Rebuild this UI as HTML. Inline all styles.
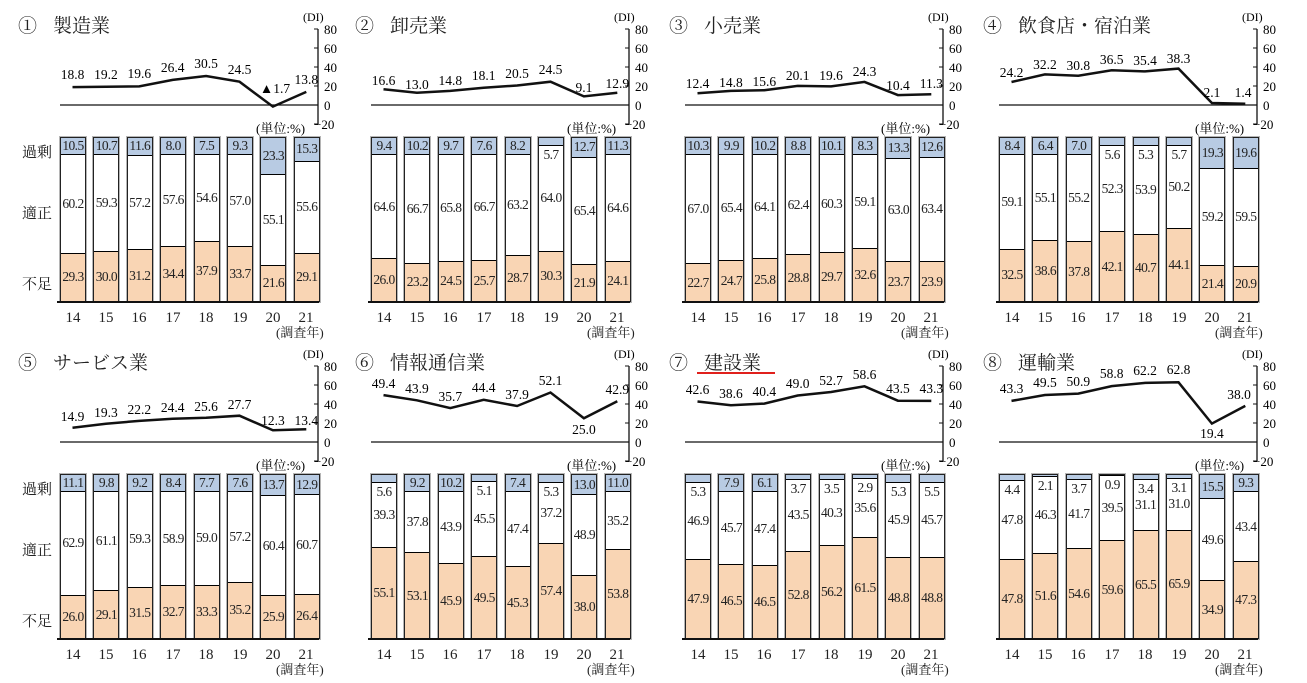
<!DOCTYPE html>
<html><head><meta charset="utf-8">
<style>
body{margin:0;background:#fff;width:1307px;height:683px;overflow:hidden;position:relative;font-family:"Liberation Serif","Noto Serif CJK SC",serif;color:#222}
.p{position:absolute;width:340px;height:337px}
.p svg{position:absolute;left:0;top:0;overflow:visible}
.ti{position:absolute;left:44px;top:11px;font-size:19px;white-space:nowrap}
.ti span{margin-left:16px}
.bar{position:absolute;top:137px;width:26px;height:165px;border:1px solid #222;box-sizing:border-box;display:flex;flex-direction:column;box-shadow:0 0 0 1px #b5b5b5;font-size:13.5px;letter-spacing:-0.6px;overflow:hidden}
.bar div{display:flex;align-items:center;justify-content:center;white-space:nowrap}
.e{flex:1 0 0;background:#b8cbe3}
.a{flex:0 1 auto;background:#fff;border-top:1px solid #000;position:relative;min-height:0}
.s{flex:0 1 auto;background:#f9d5b4;border-top:1px solid #000;min-height:0}
.a i{font-style:normal;position:absolute;top:1px;left:0;right:0;text-align:center}
.b0{left:60px}.b1{left:93.4px}.b2{left:126.8px}.b3{left:160.2px}.b4{left:193.6px}.b5{left:227px}.b6{left:260.4px}.b7{left:293.8px}
.xl{position:absolute;top:310px;width:30px;text-align:center;font-size:15px}
.yr{position:absolute;left:276px;top:322px;font-size:13px;white-space:nowrap}
.sl{position:absolute;left:22px;font-size:15px}
svg text{font-family:"Liberation Serif","Noto Serif CJK SC",serif}
.ax{font-size:13px}
.dl{font-size:13.5px}
</style></head><body>

<!-- Panel 1 -->
<div class="p" style="left:0;top:0">
<div class="ti" style="left:18px">①<span>製造業</span></div>
<svg width="340" height="140">
<line x1="60" y1="105" x2="318" y2="105" stroke="#111" stroke-width="1.3"/>
<line x1="318" y1="29" x2="318" y2="124" stroke="#111" stroke-width="1.3"/>
<path d="M314 29H318M314 48H318M314 67H318M314 86H318M314 105H318M314 124H318" stroke="#111"/>
<g class="ax"><text x="324" y="34">80</text><text x="324" y="53">60</text><text x="324" y="72">40</text><text x="324" y="91">20</text><text x="324" y="110">0</text><text x="314" y="129">−20</text></g>
<text x="303" y="21" font-size="12">(DI)</text>
<text x="256" y="133" font-size="13">(単位:%)</text>
<polyline fill="none" stroke="#111" stroke-width="2.5" points="72.5,87.1 105.9,86.8 139.3,86.4 172.7,79.9 206.1,76 239.5,81.7 272.9,106.6 306.3,91.9"/>
<g class="dl" text-anchor="middle"><text x="72.5" y="79">18.8</text><text x="105.9" y="79">19.2</text><text x="139.3" y="78">19.6</text><text x="172.7" y="72">26.4</text><text x="206.1" y="68">30.5</text><text x="239.5" y="74">24.5</text><text x="275" y="93">▲1.7</text><text x="306.3" y="84">13.8</text></g>
</svg>
<div class="sl" style="top:141px">過剰</div><div class="sl" style="top:202px">適正</div><div class="sl" style="top:273px">不足</div>
<div class="bar b0"><div class="e">10.5</div><div class="a" style="height:60.2%">60.2</div><div class="s" style="height:29.3%">29.3</div></div>
<div class="bar b1"><div class="e">10.7</div><div class="a" style="height:59.3%">59.3</div><div class="s" style="height:30%">30.0</div></div>
<div class="bar b2"><div class="e">11.6</div><div class="a" style="height:57.2%">57.2</div><div class="s" style="height:31.2%">31.2</div></div>
<div class="bar b3"><div class="e">8.0</div><div class="a" style="height:57.6%">57.6</div><div class="s" style="height:34.4%">34.4</div></div>
<div class="bar b4"><div class="e">7.5</div><div class="a" style="height:54.6%">54.6</div><div class="s" style="height:37.9%">37.9</div></div>
<div class="bar b5"><div class="e">9.3</div><div class="a" style="height:57%">57.0</div><div class="s" style="height:33.7%">33.7</div></div>
<div class="bar b6"><div class="e">23.3</div><div class="a" style="height:55.1%">55.1</div><div class="s" style="height:21.6%">21.6</div></div>
<div class="bar b7"><div class="e">15.3</div><div class="a" style="height:55.6%">55.6</div><div class="s" style="height:29.1%">29.1</div></div>
<div class="xl" style="left:58px">14</div><div class="xl" style="left:91px">15</div><div class="xl" style="left:124px">16</div><div class="xl" style="left:158px">17</div><div class="xl" style="left:191px">18</div><div class="xl" style="left:225px">19</div><div class="xl" style="left:258px">20</div><div class="xl" style="left:291px">21</div>
<div class="yr">(調査年)</div>
</div>

<!-- Panel 2 -->
<div class="p" style="left:311px;top:0">
<div class="ti">②<span>卸売業</span></div>
<svg width="340" height="140">
<line x1="60" y1="105" x2="318" y2="105" stroke="#111" stroke-width="1.3"/>
<line x1="318" y1="29" x2="318" y2="124" stroke="#111" stroke-width="1.3"/>
<path d="M314 29H318M314 48H318M314 67H318M314 86H318M314 105H318M314 124H318" stroke="#111"/>
<g class="ax"><text x="324" y="34">80</text><text x="324" y="53">60</text><text x="324" y="72">40</text><text x="324" y="91">20</text><text x="324" y="110">0</text><text x="314" y="129">−20</text></g>
<text x="303" y="21" font-size="12">(DI)</text>
<text x="256" y="133" font-size="13">(単位:%)</text>
<polyline fill="none" stroke="#111" stroke-width="2.5" points="72.5,89.2 105.9,92.7 139.3,90.9 172.7,87.8 206.1,85.5 239.5,81.7 272.9,96.4 306.3,92.7"/>
<g class="dl" text-anchor="middle"><text x="72.5" y="85">16.6</text><text x="105.9" y="89">13.0</text><text x="139.3" y="85">14.8</text><text x="172.7" y="80">18.1</text><text x="206.1" y="78">20.5</text><text x="239.5" y="74">24.5</text><text x="272.9" y="92">9.1</text><text x="306.3" y="88">12.9</text></g>
</svg>
<div class="bar b0"><div class="e">9.4</div><div class="a" style="height:64.6%">64.6</div><div class="s" style="height:26%">26.0</div></div>
<div class="bar b1"><div class="e">10.2</div><div class="a" style="height:66.7%">66.7</div><div class="s" style="height:23.2%">23.2</div></div>
<div class="bar b2"><div class="e">9.7</div><div class="a" style="height:65.8%">65.8</div><div class="s" style="height:24.5%">24.5</div></div>
<div class="bar b3"><div class="e">7.6</div><div class="a" style="height:66.7%">66.7</div><div class="s" style="height:25.7%">25.7</div></div>
<div class="bar b4"><div class="e">8.2</div><div class="a" style="height:63.2%">63.2</div><div class="s" style="height:28.7%">28.7</div></div>
<div class="bar b5"><div class="e"></div><div class="a" style="height:64%"><i>5.7</i>64.0</div><div class="s" style="height:30.3%">30.3</div></div>
<div class="bar b6"><div class="e">12.7</div><div class="a" style="height:65.4%">65.4</div><div class="s" style="height:21.9%">21.9</div></div>
<div class="bar b7"><div class="e">11.3</div><div class="a" style="height:64.6%">64.6</div><div class="s" style="height:24.1%">24.1</div></div>
<div class="xl" style="left:58px">14</div><div class="xl" style="left:91px">15</div><div class="xl" style="left:124px">16</div><div class="xl" style="left:158px">17</div><div class="xl" style="left:191px">18</div><div class="xl" style="left:225px">19</div><div class="xl" style="left:258px">20</div><div class="xl" style="left:291px">21</div>
<div class="yr">(調査年)</div>
</div>

<!-- Panel 3 -->
<div class="p" style="left:625px;top:0">
<div class="ti">③<span>小売業</span></div>
<svg width="340" height="140">
<line x1="60" y1="105" x2="318" y2="105" stroke="#111" stroke-width="1.3"/>
<line x1="318" y1="29" x2="318" y2="124" stroke="#111" stroke-width="1.3"/>
<path d="M314 29H318M314 48H318M314 67H318M314 86H318M314 105H318M314 124H318" stroke="#111"/>
<g class="ax"><text x="324" y="34">80</text><text x="324" y="53">60</text><text x="324" y="72">40</text><text x="324" y="91">20</text><text x="324" y="110">0</text><text x="314" y="129">−20</text></g>
<text x="303" y="21" font-size="12">(DI)</text>
<text x="256" y="133" font-size="13">(単位:%)</text>
<polyline fill="none" stroke="#111" stroke-width="2.5" points="72.5,93.2 105.9,90.9 139.3,90.2 172.7,85.9 206.1,86.4 239.5,81.9 272.9,95.1 306.3,94.3"/>
<g class="dl" text-anchor="middle"><text x="72.5" y="88">12.4</text><text x="105.9" y="87">14.8</text><text x="139.3" y="86">15.6</text><text x="172.7" y="80">20.1</text><text x="206.1" y="80">19.6</text><text x="239.5" y="76">24.3</text><text x="272.9" y="90">10.4</text><text x="306.3" y="88">11.3</text></g>
</svg>
<div class="bar b0"><div class="e">10.3</div><div class="a" style="height:67%">67.0</div><div class="s" style="height:22.7%">22.7</div></div>
<div class="bar b1"><div class="e">9.9</div><div class="a" style="height:65.4%">65.4</div><div class="s" style="height:24.7%">24.7</div></div>
<div class="bar b2"><div class="e">10.2</div><div class="a" style="height:64.1%">64.1</div><div class="s" style="height:25.8%">25.8</div></div>
<div class="bar b3"><div class="e">8.8</div><div class="a" style="height:62.4%">62.4</div><div class="s" style="height:28.8%">28.8</div></div>
<div class="bar b4"><div class="e">10.1</div><div class="a" style="height:60.3%">60.3</div><div class="s" style="height:29.7%">29.7</div></div>
<div class="bar b5"><div class="e">8.3</div><div class="a" style="height:59.1%">59.1</div><div class="s" style="height:32.6%">32.6</div></div>
<div class="bar b6"><div class="e">13.3</div><div class="a" style="height:63%">63.0</div><div class="s" style="height:23.7%">23.7</div></div>
<div class="bar b7"><div class="e">12.6</div><div class="a" style="height:63.4%">63.4</div><div class="s" style="height:23.9%">23.9</div></div>
<div class="xl" style="left:58px">14</div><div class="xl" style="left:91px">15</div><div class="xl" style="left:124px">16</div><div class="xl" style="left:158px">17</div><div class="xl" style="left:191px">18</div><div class="xl" style="left:225px">19</div><div class="xl" style="left:258px">20</div><div class="xl" style="left:291px">21</div>
<div class="yr">(調査年)</div>
</div>

<!-- Panel 4 -->
<div class="p" style="left:939px;top:0">
<div class="ti">④<span>飲食店・宿泊業</span></div>
<svg width="340" height="140">
<line x1="60" y1="105" x2="318" y2="105" stroke="#111" stroke-width="1.3"/>
<line x1="318" y1="29" x2="318" y2="124" stroke="#111" stroke-width="1.3"/>
<path d="M314 29H318M314 48H318M314 67H318M314 86H318M314 105H318M314 124H318" stroke="#111"/>
<g class="ax"><text x="324" y="34">80</text><text x="324" y="53">60</text><text x="324" y="72">40</text><text x="324" y="91">20</text><text x="324" y="110">0</text><text x="314" y="129">−20</text></g>
<text x="303" y="21" font-size="12">(DI)</text>
<text x="256" y="133" font-size="13">(単位:%)</text>
<polyline fill="none" stroke="#111" stroke-width="2.5" points="72.5,82 105.9,74.4 139.3,75.7 172.7,70.3 206.1,71.4 239.5,68.6 272.9,103 306.3,103.7"/>
<g class="dl" text-anchor="middle"><text x="72.5" y="77">24.2</text><text x="105.9" y="69">32.2</text><text x="139.3" y="70">30.8</text><text x="172.7" y="64">36.5</text><text x="206.1" y="65">35.4</text><text x="239.5" y="63">38.3</text><text x="272.9" y="97">2.1</text><text x="304" y="97">1.4</text></g>
</svg>
<div class="bar b0"><div class="e">8.4</div><div class="a" style="height:59.1%">59.1</div><div class="s" style="height:32.5%">32.5</div></div>
<div class="bar b1"><div class="e">6.4</div><div class="a" style="height:55.1%">55.1</div><div class="s" style="height:38.6%">38.6</div></div>
<div class="bar b2"><div class="e">7.0</div><div class="a" style="height:55.2%">55.2</div><div class="s" style="height:37.8%">37.8</div></div>
<div class="bar b3"><div class="e"></div><div class="a" style="height:52.3%"><i>5.6</i>52.3</div><div class="s" style="height:42.1%">42.1</div></div>
<div class="bar b4"><div class="e"></div><div class="a" style="height:53.9%"><i>5.3</i>53.9</div><div class="s" style="height:40.7%">40.7</div></div>
<div class="bar b5"><div class="e"></div><div class="a" style="height:50.2%"><i>5.7</i>50.2</div><div class="s" style="height:44.1%">44.1</div></div>
<div class="bar b6"><div class="e">19.3</div><div class="a" style="height:59.2%">59.2</div><div class="s" style="height:21.4%">21.4</div></div>
<div class="bar b7"><div class="e">19.6</div><div class="a" style="height:59.5%">59.5</div><div class="s" style="height:20.9%">20.9</div></div>
<div class="xl" style="left:58px">14</div><div class="xl" style="left:91px">15</div><div class="xl" style="left:124px">16</div><div class="xl" style="left:158px">17</div><div class="xl" style="left:191px">18</div><div class="xl" style="left:225px">19</div><div class="xl" style="left:258px">20</div><div class="xl" style="left:291px">21</div>
<div class="yr">(調査年)</div>
</div>

<!-- Panel 5 -->
<div class="p" style="left:0;top:337px">
<div class="ti" style="left:18px">⑤<span>サービス業</span></div>
<svg width="340" height="140">
<line x1="60" y1="105" x2="318" y2="105" stroke="#111" stroke-width="1.3"/>
<line x1="318" y1="29" x2="318" y2="124" stroke="#111" stroke-width="1.3"/>
<path d="M314 29H318M314 48H318M314 67H318M314 86H318M314 105H318M314 124H318" stroke="#111"/>
<g class="ax"><text x="324" y="34">80</text><text x="324" y="53">60</text><text x="324" y="72">40</text><text x="324" y="91">20</text><text x="324" y="110">0</text><text x="314" y="129">−20</text></g>
<text x="303" y="21" font-size="12">(DI)</text>
<text x="256" y="133" font-size="13">(単位:%)</text>
<polyline fill="none" stroke="#111" stroke-width="2.5" points="72.5,90.8 105.9,86.7 139.3,83.9 172.7,81.8 206.1,80.7 239.5,78.7 272.9,93.3 306.3,92.3"/>
<g class="dl" text-anchor="middle"><text x="72.5" y="84">14.9</text><text x="105.9" y="80">19.3</text><text x="139.3" y="77">22.2</text><text x="172.7" y="75">24.4</text><text x="206.1" y="74">25.6</text><text x="239.5" y="72">27.7</text><text x="272.9" y="88">12.3</text><text x="306.3" y="88">13.4</text></g>
</svg>
<div class="sl" style="top:141px">過剰</div><div class="sl" style="top:202px">適正</div><div class="sl" style="top:273px">不足</div>
<div class="bar b0"><div class="e">11.1</div><div class="a" style="height:62.9%">62.9</div><div class="s" style="height:26%">26.0</div></div>
<div class="bar b1"><div class="e">9.8</div><div class="a" style="height:61.1%">61.1</div><div class="s" style="height:29.1%">29.1</div></div>
<div class="bar b2"><div class="e">9.2</div><div class="a" style="height:59.3%">59.3</div><div class="s" style="height:31.5%">31.5</div></div>
<div class="bar b3"><div class="e">8.4</div><div class="a" style="height:58.9%">58.9</div><div class="s" style="height:32.7%">32.7</div></div>
<div class="bar b4"><div class="e">7.7</div><div class="a" style="height:59%">59.0</div><div class="s" style="height:33.3%">33.3</div></div>
<div class="bar b5"><div class="e">7.6</div><div class="a" style="height:57.2%">57.2</div><div class="s" style="height:35.2%">35.2</div></div>
<div class="bar b6"><div class="e">13.7</div><div class="a" style="height:60.4%">60.4</div><div class="s" style="height:25.9%">25.9</div></div>
<div class="bar b7"><div class="e">12.9</div><div class="a" style="height:60.7%">60.7</div><div class="s" style="height:26.4%">26.4</div></div>
<div class="xl" style="left:58px">14</div><div class="xl" style="left:91px">15</div><div class="xl" style="left:124px">16</div><div class="xl" style="left:158px">17</div><div class="xl" style="left:191px">18</div><div class="xl" style="left:225px">19</div><div class="xl" style="left:258px">20</div><div class="xl" style="left:291px">21</div>
<div class="yr">(調査年)</div>
</div>

<!-- Panel 6 -->
<div class="p" style="left:311px;top:337px">
<div class="ti">⑥<span>情報通信業</span></div>
<svg width="340" height="140">
<line x1="60" y1="105" x2="318" y2="105" stroke="#111" stroke-width="1.3"/>
<line x1="318" y1="29" x2="318" y2="124" stroke="#111" stroke-width="1.3"/>
<path d="M314 29H318M314 48H318M314 67H318M314 86H318M314 105H318M314 124H318" stroke="#111"/>
<g class="ax"><text x="324" y="34">80</text><text x="324" y="53">60</text><text x="324" y="72">40</text><text x="324" y="91">20</text><text x="324" y="110">0</text><text x="314" y="129">−20</text></g>
<text x="303" y="21" font-size="12">(DI)</text>
<text x="256" y="133" font-size="13">(単位:%)</text>
<polyline fill="none" stroke="#111" stroke-width="2.5" points="72.5,58.1 105.9,63.3 139.3,71.1 172.7,62.8 206.1,69 239.5,55.5 272.9,81.3 306.3,64.2"/>
<g class="dl" text-anchor="middle"><text x="72.5" y="51">49.4</text><text x="105.9" y="56">43.9</text><text x="139.3" y="64">35.7</text><text x="172.7" y="55">44.4</text><text x="206.1" y="62">37.9</text><text x="239.5" y="48">52.1</text><text x="272.9" y="97">25.0</text><text x="306.3" y="57">42.9</text></g>
</svg>
<div class="bar b0"><div class="e"></div><div class="a" style="height:39.3%"><i>5.6</i>39.3</div><div class="s" style="height:55.1%">55.1</div></div>
<div class="bar b1"><div class="e">9.2</div><div class="a" style="height:37.8%">37.8</div><div class="s" style="height:53.1%">53.1</div></div>
<div class="bar b2"><div class="e">10.2</div><div class="a" style="height:43.9%">43.9</div><div class="s" style="height:45.9%">45.9</div></div>
<div class="bar b3"><div class="e"></div><div class="a" style="height:45.5%"><i>5.1</i>45.5</div><div class="s" style="height:49.5%">49.5</div></div>
<div class="bar b4"><div class="e">7.4</div><div class="a" style="height:47.4%">47.4</div><div class="s" style="height:45.3%">45.3</div></div>
<div class="bar b5"><div class="e"></div><div class="a" style="height:37.2%"><i>5.3</i>37.2</div><div class="s" style="height:57.4%">57.4</div></div>
<div class="bar b6"><div class="e">13.0</div><div class="a" style="height:48.9%">48.9</div><div class="s" style="height:38%">38.0</div></div>
<div class="bar b7"><div class="e">11.0</div><div class="a" style="height:35.2%">35.2</div><div class="s" style="height:53.8%">53.8</div></div>
<div class="xl" style="left:58px">14</div><div class="xl" style="left:91px">15</div><div class="xl" style="left:124px">16</div><div class="xl" style="left:158px">17</div><div class="xl" style="left:191px">18</div><div class="xl" style="left:225px">19</div><div class="xl" style="left:258px">20</div><div class="xl" style="left:291px">21</div>
<div class="yr">(調査年)</div>
</div>

<!-- Panel 7 -->
<div class="p" style="left:625px;top:337px">
<div class="ti">⑦<span>建設業</span></div>
<div style="position:absolute;left:72px;top:35px;width:78px;height:2px;background:#e0201c"></div>
<svg width="340" height="140">
<line x1="60" y1="105" x2="318" y2="105" stroke="#111" stroke-width="1.3"/>
<line x1="318" y1="29" x2="318" y2="124" stroke="#111" stroke-width="1.3"/>
<path d="M314 29H318M314 48H318M314 67H318M314 86H318M314 105H318M314 124H318" stroke="#111"/>
<g class="ax"><text x="324" y="34">80</text><text x="324" y="53">60</text><text x="324" y="72">40</text><text x="324" y="91">20</text><text x="324" y="110">0</text><text x="314" y="129">−20</text></g>
<text x="303" y="21" font-size="12">(DI)</text>
<text x="256" y="133" font-size="13">(単位:%)</text>
<polyline fill="none" stroke="#111" stroke-width="2.5" points="72.5,64.5 105.9,68.3 139.3,66.6 172.7,58.5 206.1,55 239.5,49.3 272.9,63.7 306.3,63.9"/>
<g class="dl" text-anchor="middle"><text x="72.5" y="57">42.6</text><text x="105.9" y="61">38.6</text><text x="139.3" y="59">40.4</text><text x="172.7" y="51">49.0</text><text x="206.1" y="48">52.7</text><text x="239.5" y="42">58.6</text><text x="272.9" y="56">43.5</text><text x="306.3" y="56">43.3</text></g>
</svg>
<div class="bar b0"><div class="e"></div><div class="a" style="height:46.9%"><i>5.3</i>46.9</div><div class="s" style="height:47.9%">47.9</div></div>
<div class="bar b1"><div class="e">7.9</div><div class="a" style="height:45.7%">45.7</div><div class="s" style="height:46.5%">46.5</div></div>
<div class="bar b2"><div class="e">6.1</div><div class="a" style="height:47.4%">47.4</div><div class="s" style="height:46.5%">46.5</div></div>
<div class="bar b3"><div class="e"></div><div class="a" style="height:43.5%"><i>3.7</i>43.5</div><div class="s" style="height:52.8%">52.8</div></div>
<div class="bar b4"><div class="e"></div><div class="a" style="height:40.3%"><i>3.5</i>40.3</div><div class="s" style="height:56.2%">56.2</div></div>
<div class="bar b5"><div class="e"></div><div class="a" style="height:35.6%"><i>2.9</i>35.6</div><div class="s" style="height:61.5%">61.5</div></div>
<div class="bar b6"><div class="e"></div><div class="a" style="height:45.9%"><i>5.3</i>45.9</div><div class="s" style="height:48.8%">48.8</div></div>
<div class="bar b7"><div class="e"></div><div class="a" style="height:45.7%"><i>5.5</i>45.7</div><div class="s" style="height:48.8%">48.8</div></div>
<div class="xl" style="left:58px">14</div><div class="xl" style="left:91px">15</div><div class="xl" style="left:124px">16</div><div class="xl" style="left:158px">17</div><div class="xl" style="left:191px">18</div><div class="xl" style="left:225px">19</div><div class="xl" style="left:258px">20</div><div class="xl" style="left:291px">21</div>
<div class="yr">(調査年)</div>
</div>

<!-- Panel 8 -->
<div class="p" style="left:939px;top:337px">
<div class="ti">⑧<span>運輸業</span></div>
<svg width="340" height="140">
<line x1="60" y1="105" x2="318" y2="105" stroke="#111" stroke-width="1.3"/>
<line x1="318" y1="29" x2="318" y2="124" stroke="#111" stroke-width="1.3"/>
<path d="M314 29H318M314 48H318M314 67H318M314 86H318M314 105H318M314 124H318" stroke="#111"/>
<g class="ax"><text x="324" y="34">80</text><text x="324" y="53">60</text><text x="324" y="72">40</text><text x="324" y="91">20</text><text x="324" y="110">0</text><text x="314" y="129">−20</text></g>
<text x="303" y="21" font-size="12">(DI)</text>
<text x="256" y="133" font-size="13">(単位:%)</text>
<polyline fill="none" stroke="#111" stroke-width="2.5" points="72.5,63.9 105.9,58 139.3,56.6 172.7,49.1 206.1,45.9 239.5,45.3 272.9,86.6 306.3,68.9"/>
<g class="dl" text-anchor="middle"><text x="72.5" y="56">43.3</text><text x="105.9" y="50">49.5</text><text x="139.3" y="49">50.9</text><text x="172.7" y="41">58.8</text><text x="206.1" y="38">62.2</text><text x="239.5" y="37">62.8</text><text x="272.9" y="101">19.4</text><text x="300" y="62">38.0</text></g>
</svg>
<div class="bar b0"><div class="e"></div><div class="a" style="height:47.8%"><i>4.4</i>47.8</div><div class="s" style="height:47.8%">47.8</div></div>
<div class="bar b1"><div class="e"></div><div class="a" style="height:46.3%"><i>2.1</i>46.3</div><div class="s" style="height:51.6%">51.6</div></div>
<div class="bar b2"><div class="e"></div><div class="a" style="height:41.7%"><i>3.7</i>41.7</div><div class="s" style="height:54.6%">54.6</div></div>
<div class="bar b3"><div class="e"></div><div class="a" style="height:39.5%"><i>0.9</i>39.5</div><div class="s" style="height:59.6%">59.6</div></div>
<div class="bar b4"><div class="e"></div><div class="a" style="height:31.1%"><i>3.4</i>31.1</div><div class="s" style="height:65.5%">65.5</div></div>
<div class="bar b5"><div class="e"></div><div class="a" style="height:31%"><i>3.1</i>31.0</div><div class="s" style="height:65.9%">65.9</div></div>
<div class="bar b6"><div class="e">15.5</div><div class="a" style="height:49.6%">49.6</div><div class="s" style="height:34.9%">34.9</div></div>
<div class="bar b7"><div class="e">9.3</div><div class="a" style="height:43.4%">43.4</div><div class="s" style="height:47.3%">47.3</div></div>
<div class="xl" style="left:58px">14</div><div class="xl" style="left:91px">15</div><div class="xl" style="left:124px">16</div><div class="xl" style="left:158px">17</div><div class="xl" style="left:191px">18</div><div class="xl" style="left:225px">19</div><div class="xl" style="left:258px">20</div><div class="xl" style="left:291px">21</div>
<div class="yr">(調査年)</div>
</div>

<!-- bar baselines -->
<div style="position:absolute;left:57px;top:301px;width:262px;height:1.5px;background:#111"></div>
<div style="position:absolute;left:368px;top:301px;width:262px;height:1.5px;background:#111"></div>
<div style="position:absolute;left:682px;top:301px;width:262px;height:1.5px;background:#111"></div>
<div style="position:absolute;left:996px;top:301px;width:262px;height:1.5px;background:#111"></div>
<div style="position:absolute;left:57px;top:638px;width:262px;height:1.5px;background:#111"></div>
<div style="position:absolute;left:368px;top:638px;width:262px;height:1.5px;background:#111"></div>
<div style="position:absolute;left:682px;top:638px;width:262px;height:1.5px;background:#111"></div>
<div style="position:absolute;left:996px;top:638px;width:262px;height:1.5px;background:#111"></div>
</body></html>
